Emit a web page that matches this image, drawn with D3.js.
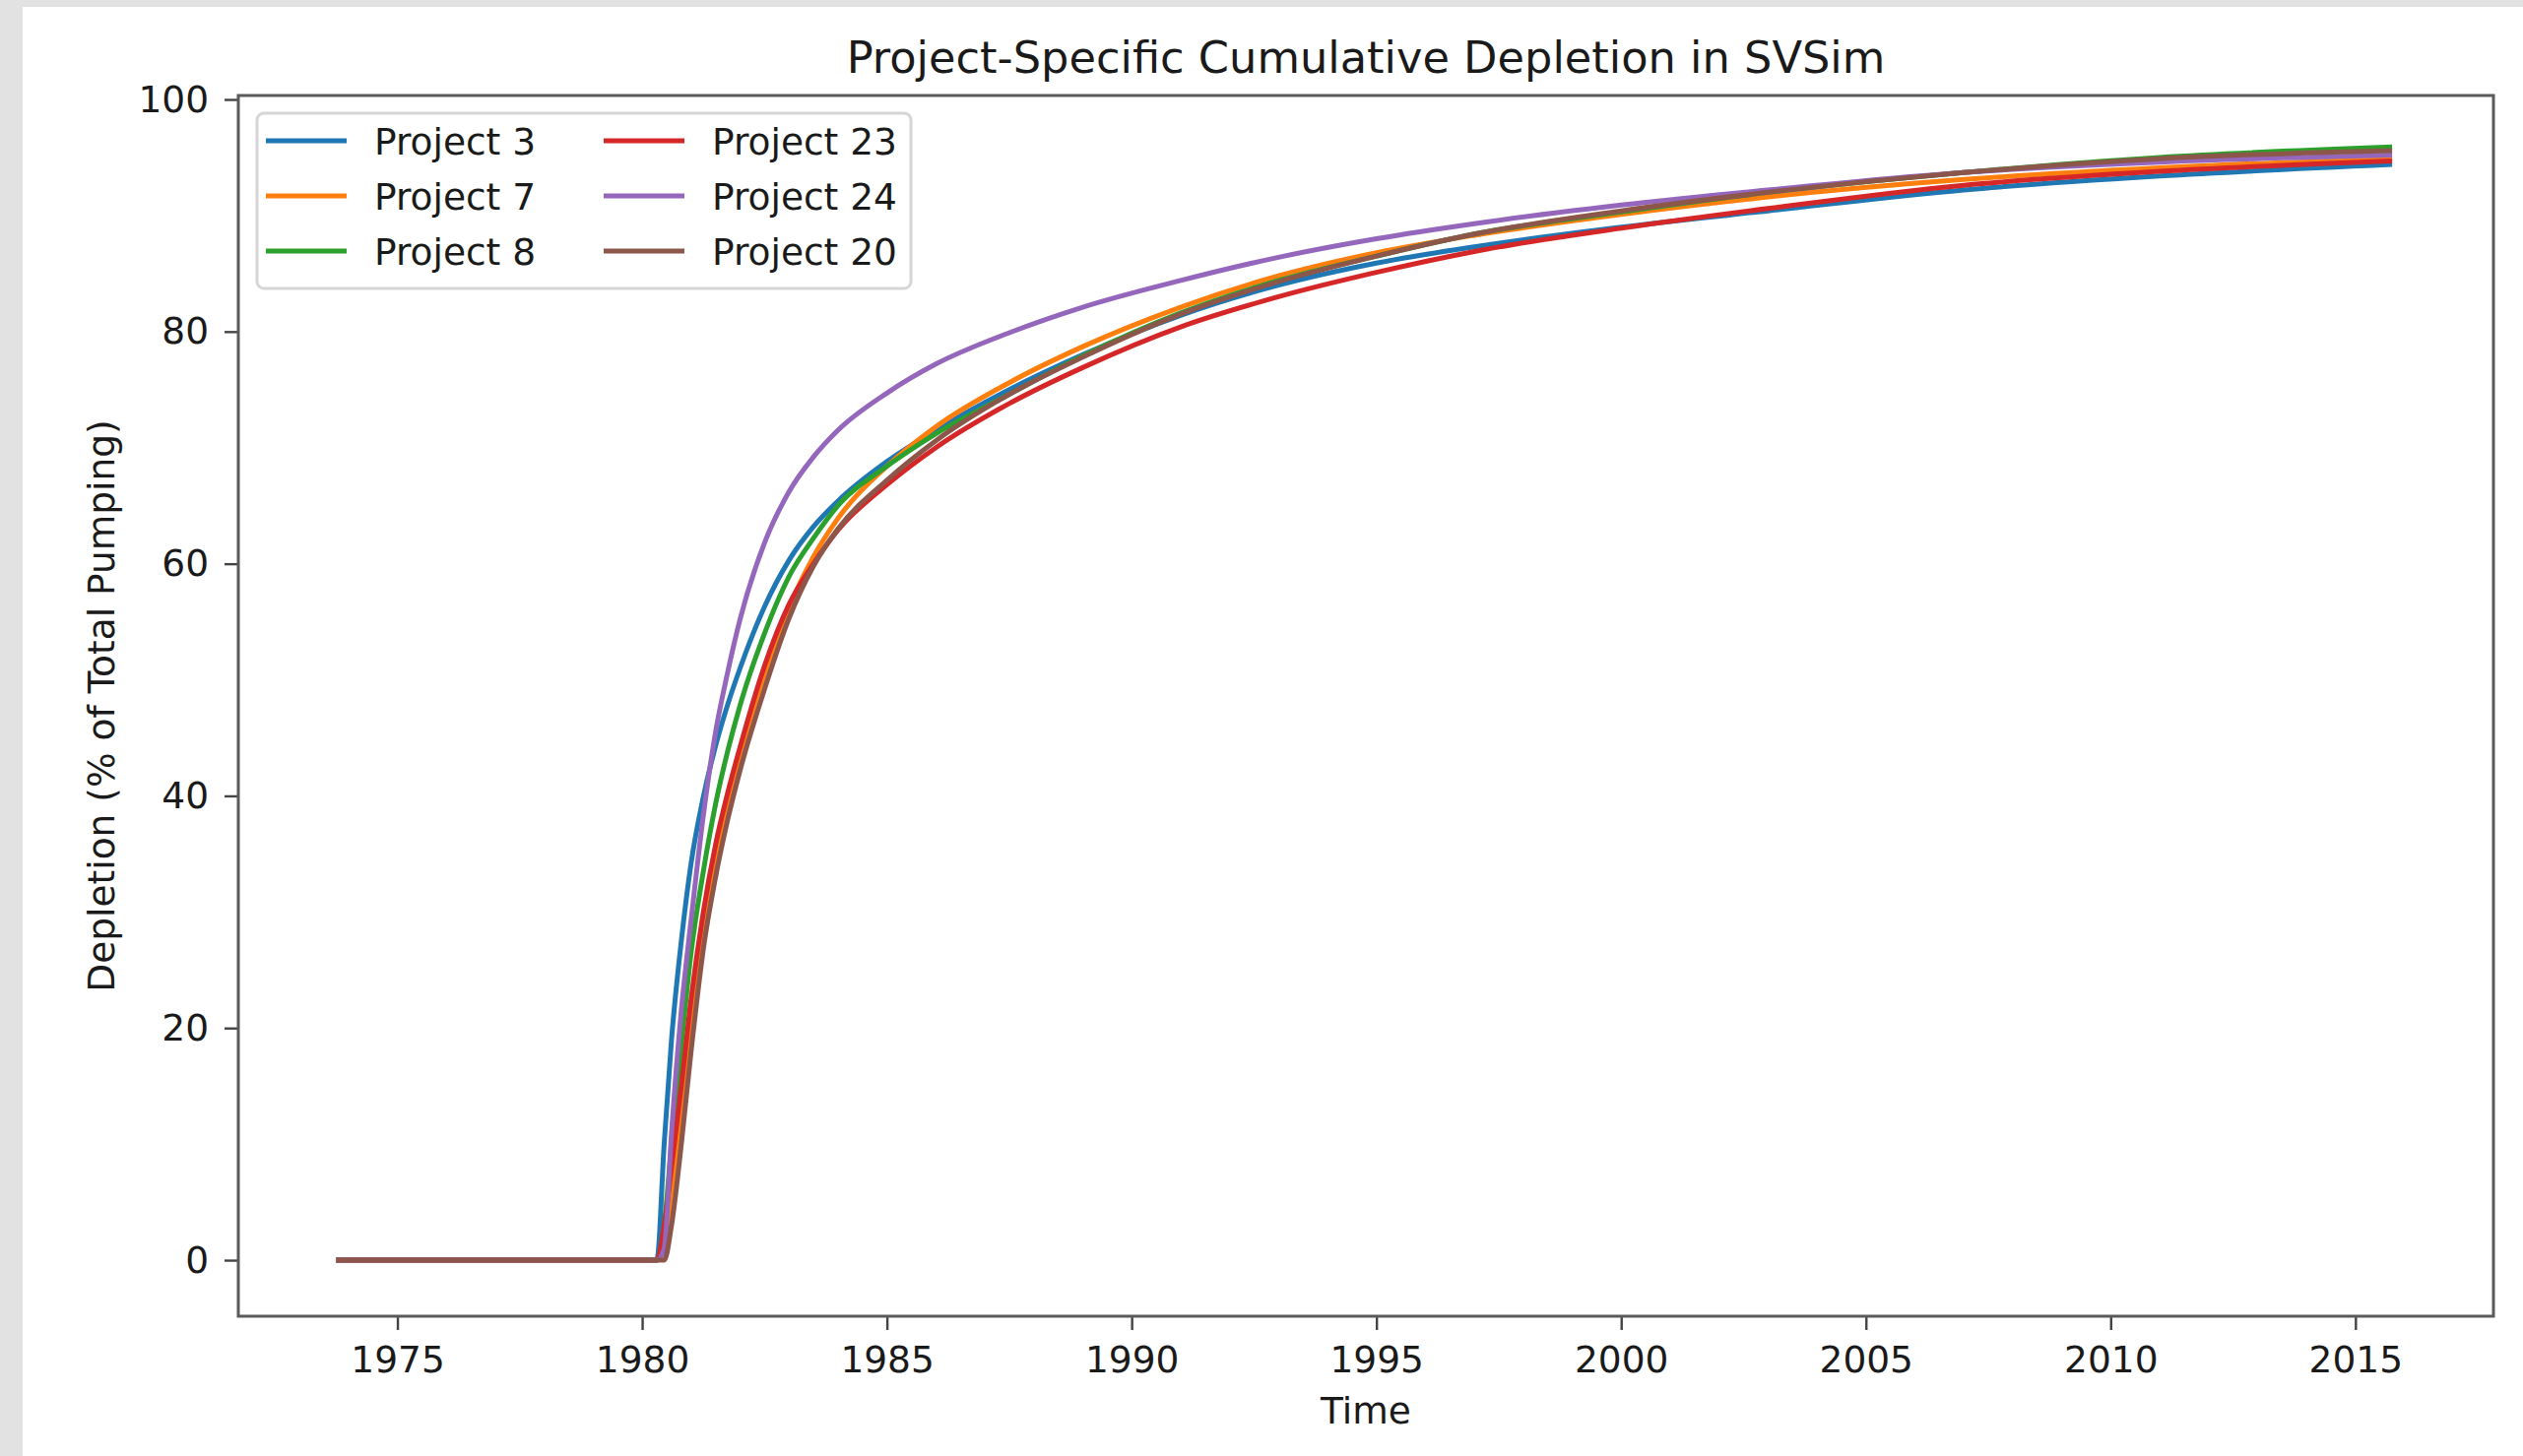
<!DOCTYPE html>
<html>
<head>
<meta charset="utf-8">
<script src="https://cdn.jsdelivr.net/npm/d3@7"></script>
<style>
  body { margin: 0; background: #fff; }
  text { font-family: "DejaVu Sans", sans-serif; fill: #1a1a1a; }
</style>
</head>
<body>
<div id="chart"></div>
<script>
// time points (decimal years) shared by every project
const years = [1973.75, 1980.3, 1980.45, 1980.6, 1980.8, 1981.0, 1981.25, 1981.5, 1981.75, 1982.0,
  1982.5, 1983.0, 1983.5, 1984.0, 1985.0, 1986.0, 1987.5, 1989.0, 1991.0, 1993.0,
  1995.0, 1997.0, 2000.0, 2003.0, 2007.0, 2011.0, 2015.75];

// cumulative depletion (% of total pumping)
const project3 = [0, 0, 10, 19, 27.5, 34.2, 39.9, 44.3, 47.9, 51.0,
  56.3, 60.3, 63.2, 65.4, 68.8, 71.5, 75.0, 78.0, 81.4, 84.0,
  85.9, 87.3, 89.0, 90.4, 92.2, 93.4, 94.4];
const project7 = [0, 0, 1, 6, 13, 20.2, 29.0, 34.8, 39.6, 43.6,
  50.5, 56.2, 60.6, 63.9, 68.4, 71.8, 75.6, 78.7, 82.1, 84.8,
  86.8, 88.3, 90.1, 91.6, 93.1, 94.1, 94.9];
const project8 = [0, 0, 3, 10, 18.5, 26.5, 33.5, 39.3, 43.9, 47.8,
  54.0, 58.9, 62.2, 65.0, 68.4, 71.2, 74.6, 77.9, 81.6, 84.4,
  86.5, 88.4, 90.3, 92.0, 93.7, 95.0, 95.9];
const project23 = [0, 0, 3, 8, 15, 22.5, 30.0, 35.8, 40.3, 44.2,
  51.2, 56.5, 60.0, 62.9, 66.8, 70.0, 73.8, 76.9, 80.4, 83.0,
  85.1, 86.9, 88.9, 90.6, 92.6, 93.8, 94.7];
const project24 = [0, 0, 1, 11, 21.5, 29.3, 38.3, 45.5, 50.7, 55.2,
  61.8, 66.2, 69.2, 71.5, 74.7, 77.2, 79.9, 82.1, 84.4, 86.4,
  88.0, 89.3, 90.9, 92.2, 93.7, 94.6, 95.2];
const project20 = [0, 0, 0, 3, 10, 18.0, 26.8, 33.0, 38.0, 42.2,
  49.2, 55.3, 59.8, 63.0, 67.2, 70.6, 74.6, 77.8, 81.5, 84.3,
  86.5, 88.4, 90.4, 92.0, 93.7, 94.9, 95.6];

const seriesNames = ["Project 3", "Project 7", "Project 8", "Project 23", "Project 24", "Project 20"];
const seriesValues = [project3, project7, project8, project23, project24, project20];
const seriesColors = ["#1f77b4", "#ff7f0e", "#2ca02c", "#d62728", "#9467bd", "#8c564b"];

const xTicks = [1975, 1980, 1985, 1990, 1995, 2000, 2005, 2010, 2015];
const yTicks = [0, 20, 40, 60, 80, 100];

// frame constants
const FRAME_WIDTH = 2562;
const FRAME_HEIGHT = 1479;
const PLOT = {left: 242, right: 2532, top: 97, bottom: 1337};
const FONT = 37.5;

const svg = d3.select('#chart')
  .append('svg')
  .attr('width', FRAME_WIDTH)
  .attr('height', FRAME_HEIGHT);

// grey strips at the edge of the screenshot
svg.append('rect').attr('x', 0).attr('y', 0).attr('width', FRAME_WIDTH).attr('height', 7).attr('fill', '#e2e2e2');
svg.append('rect').attr('x', 0).attr('y', 0).attr('width', 23).attr('height', FRAME_HEIGHT).attr('fill', '#e2e2e2');

// scales
const x = d3.scaleLinear().domain([1971.75, 2017.82]).range([PLOT.left, PLOT.right]);
const y = d3.scaleLinear().domain([-4.83, 100.34]).range([PLOT.bottom, PLOT.top]);

// axes
const xAxis = svg.append('g')
  .attr('transform', `translate(0,${PLOT.bottom})`)
  .call(d3.axisBottom(x).tickValues(xTicks).tickFormat(d3.format('d')).tickSize(14).tickPadding(16));
const yAxis = svg.append('g')
  .attr('transform', `translate(${PLOT.left},0)`)
  .call(d3.axisLeft(y).tickValues(yTicks).tickSize(14).tickPadding(16));

[xAxis, yAxis].forEach(function (ax) {
  ax.select('.domain').remove();
  ax.selectAll('.tick line').attr('stroke', '#444').attr('stroke-width', 2.4);
  ax.selectAll('.tick text')
    .style('font-family', '"DejaVu Sans", sans-serif')
    .style('font-size', FONT + 'px')
    .attr('fill', '#1a1a1a');
});

// lines
const line = d3.line()
  .x((d, i) => x(years[i]))
  .y(d => y(d))
  .curve(d3.curveMonotoneX);

svg.append('g')
  .selectAll('path')
  .data(seriesValues)
  .join('path')
  .attr('fill', 'none')
  .attr('stroke', (d, i) => seriesColors[i])
  .attr('stroke-width', 5)
  .attr('stroke-linejoin', 'round')
  .attr('d', line);

// plot frame
svg.append('rect')
  .attr('x', PLOT.left)
  .attr('y', PLOT.top)
  .attr('width', PLOT.right - PLOT.left)
  .attr('height', PLOT.bottom - PLOT.top)
  .attr('fill', 'none')
  .attr('stroke', '#5a5a5a')
  .attr('stroke-width', 3);

// title and axis labels
svg.append('text')
  .attr('x', (PLOT.left + PLOT.right) / 2)
  .attr('y', 74)
  .attr('text-anchor', 'middle')
  .style('font-size', '44.7px')
  .text('Project-Specific Cumulative Depletion in SVSim');

svg.append('text')
  .attr('x', (PLOT.left + PLOT.right) / 2)
  .attr('y', 1446)
  .attr('text-anchor', 'middle')
  .style('font-size', FONT + 'px')
  .text('Time');

svg.append('text')
  .attr('transform', `translate(116,${(PLOT.top + PLOT.bottom) / 2}) rotate(-90)`)
  .attr('text-anchor', 'middle')
  .style('font-size', FONT + 'px')
  .text('Depletion (% of Total Pumping)');

// legend, two columns of three
const legend = svg.append('g');
legend.append('rect')
  .attr('x', 261).attr('y', 115)
  .attr('width', 664).attr('height', 178)
  .attr('rx', 7)
  .attr('fill', '#fff').attr('fill-opacity', 0.8)
  .attr('stroke', '#d6d6d6').attr('stroke-width', 3);

const colX = [270, 613];
seriesNames.forEach(function (name, i) {
  const col = Math.floor(i / 3);
  const row = i % 3;
  const ly = 143 + row * 56;
  legend.append('line')
    .attr('x1', colX[col]).attr('x2', colX[col] + 82)
    .attr('y1', ly).attr('y2', ly)
    .attr('stroke', seriesColors[i])
    .attr('stroke-width', 5);
  legend.append('text')
    .attr('x', colX[col] + 110)
    .attr('y', ly + 14)
    .style('font-size', FONT + 'px')
    .text(name);
});
</script>
</body>
</html>
